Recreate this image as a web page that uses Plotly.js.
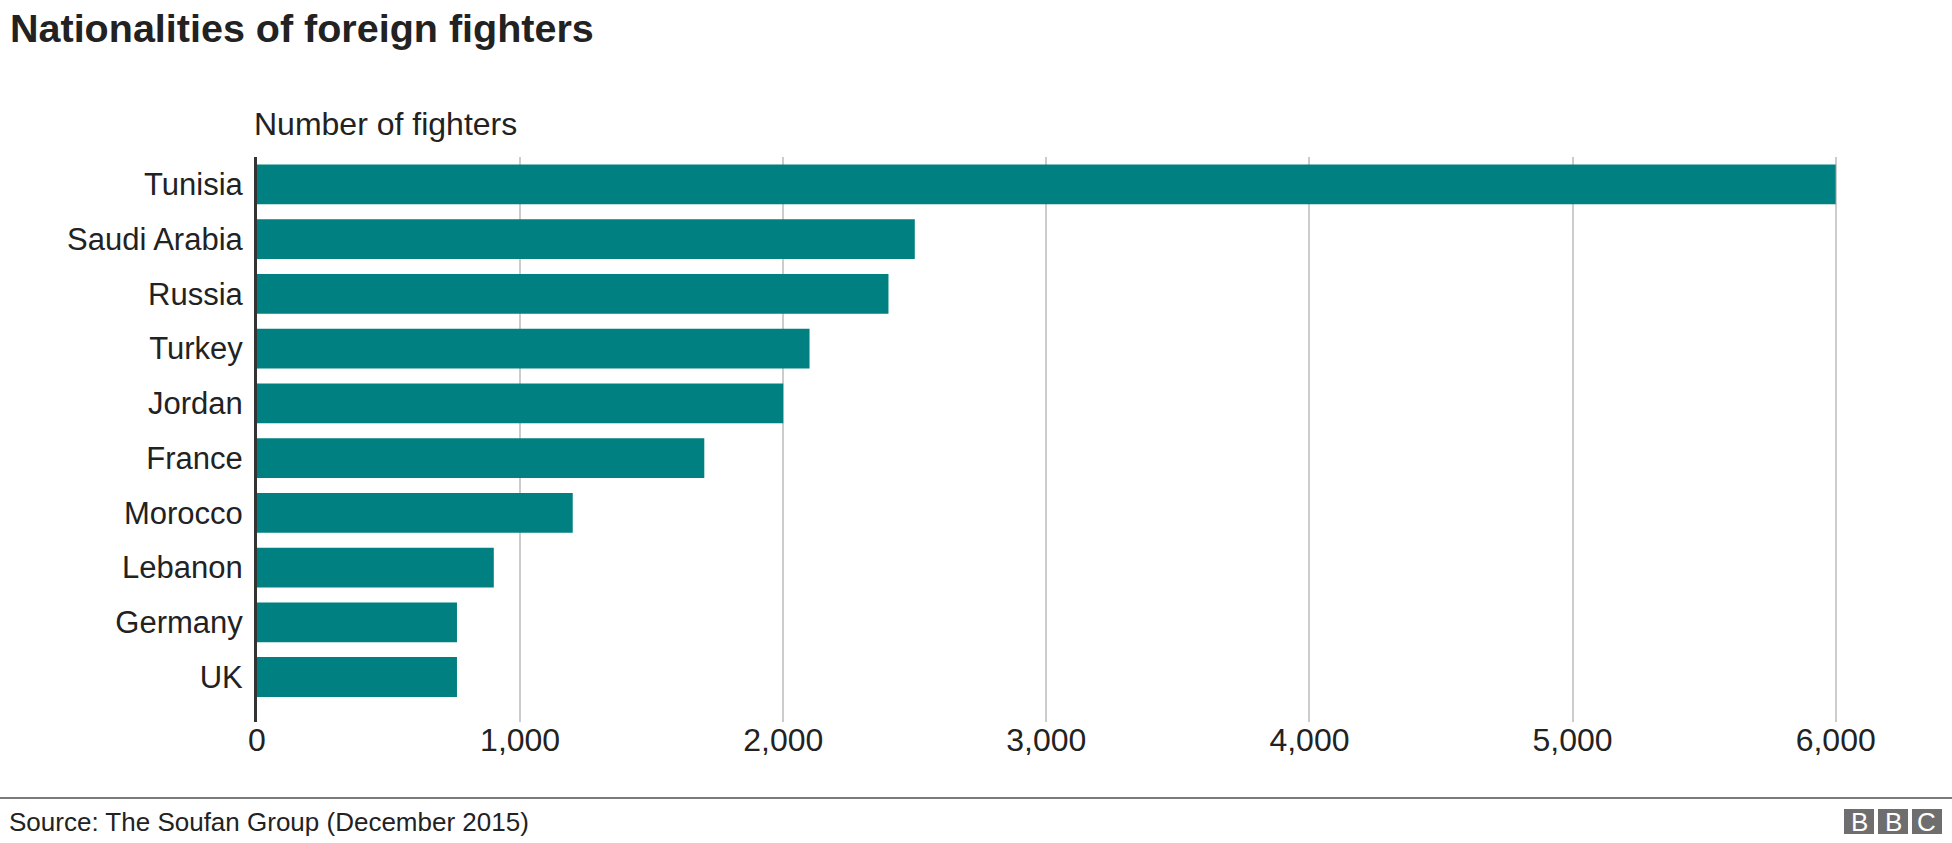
<!DOCTYPE html>
<html>
<head>
<meta charset="utf-8">
<script src="https://cdn.plot.ly/plotly-3.0.1.min.js"></script>
<style>
  html, body { margin: 0; padding: 0; background: #fff; }
  #chart { width: 1952px; height: 843px; }
</style>
</head>
<body>
<div id="chart"></div>
<script>
// ---- data ----
const countries = ["Tunisia", "Saudi Arabia", "Russia", "Turkey", "Jordan", "France", "Morocco", "Lebanon", "Germany", "UK"];
const fighters = [6000, 2500, 2400, 2100, 2000, 1700, 1200, 900, 760, 760];
const xTicks = [0, 1000, 2000, 3000, 4000, 5000, 6000];
const titleText = "Nationalities of foreign fighters";
const axisLabel = "Number of fighters";
const sourceText = "Source: The Soufan Group (December 2015)";
const logoLetters = ["B", "B", "C"];

// ---- layout geometry (pixels) ----
const W = 1952, H = 843;
const L = 257, R = 90, T = 157, B = 121;
const pw = W - L - R, ph = H - T - B;
const px = x => (x - L) / pw;           // pixel x -> paper x
const py = y => (H - B - y) / ph;        // pixel y -> paper y

const font = "'Liberation Sans', Arial, Helvetica, sans-serif";
const dark = "#222222";

const trace = {
  type: "bar",
  orientation: "h",
  x: fighters,
  y: countries,
  marker: { color: "#008080" },
  hoverinfo: "x+y"
};

const shapes = [
  { type: "line", xref: "paper", yref: "paper", x0: px(0), x1: px(W), y0: py(798), y1: py(798),
    line: { color: "#7a7a7a", width: 2 } }
];
const annotations = [
  { text: titleText, xref: "paper", yref: "paper", x: px(8), y: py(28), xanchor: "left", yanchor: "middle",
    showarrow: false, font: { family: font, size: 39.5, color: dark, weight: "bold" } },
  { text: axisLabel, xref: "paper", yref: "paper", x: px(252), y: py(124), xanchor: "left", yanchor: "middle",
    showarrow: false, font: { family: font, size: 32, color: dark } },
  { text: sourceText, xref: "paper", yref: "paper", x: px(7), y: py(822), xanchor: "left", yanchor: "middle",
    showarrow: false, font: { family: font, size: 26, color: dark } }
];
const boxW = 30, gap = 4, logoX = 1844, logoTop = 809, logoBot = 834;
logoLetters.forEach((ch, i) => {
  const x0 = logoX + i * (boxW + gap);
  shapes.push({ type: "rect", xref: "paper", yref: "paper", x0: px(x0), x1: px(x0 + boxW),
    y0: py(logoBot), y1: py(logoTop), line: { width: 0 }, fillcolor: "#6e6e6e" });
  annotations.push({ text: ch, xref: "paper", yref: "paper", x: px(x0 + boxW / 2), y: py((logoTop + logoBot) / 2),
    xanchor: "center", yanchor: "middle", showarrow: false,
    font: { family: font, size: 26, color: "#ffffff" } });
});

const layout = {
  width: W, height: H,
  margin: { l: L, r: R, t: T, b: B, pad: 0 },
  paper_bgcolor: "#ffffff", plot_bgcolor: "#ffffff",
  showlegend: false,
  bargap: 0.27,
  font: { family: font, color: dark },
  xaxis: {
    range: [0, 6100],
    tickvals: xTicks,
    tickformat: ",d",
    showgrid: true, gridcolor: "#cccccc", gridwidth: 2,
    zeroline: false, showline: false,
    ticks: "", ticklabelstandoff: -4,
    tickfont: { family: font, size: 32, color: dark },
    fixedrange: true
  },
  yaxis: {
    type: "category",
    categoryorder: "array", categoryarray: countries,
    range: [9.82, -0.5],
    showgrid: false, zeroline: false,
    showline: true, linecolor: "#333333", linewidth: 3,
    ticks: "outside", ticklen: 5, tickcolor: "rgba(0,0,0,0)",
    tickfont: { family: font, size: 31, color: dark },
    fixedrange: true
  },
  shapes: shapes,
  annotations: annotations
};

Plotly.newPlot("chart", [trace], layout, { displayModeBar: false, staticPlot: true });
</script>
</body>
</html>
